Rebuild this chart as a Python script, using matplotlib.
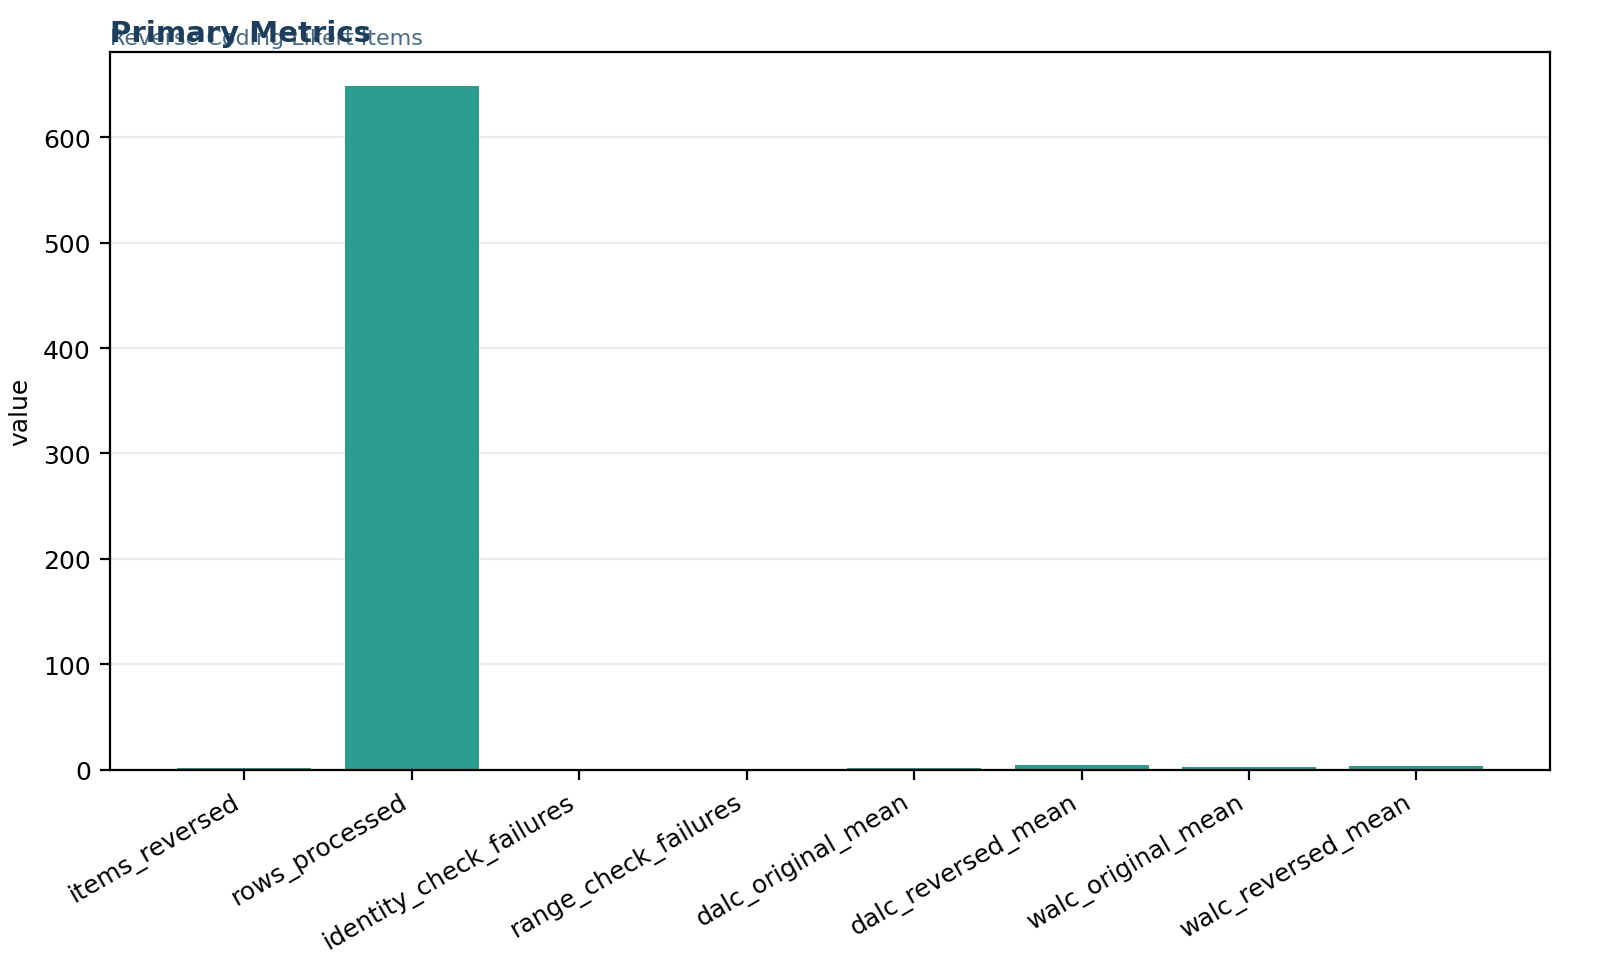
import matplotlib.pyplot as plt

metrics = ["items_reversed", "rows_processed", "identity_check_failures", "range_check_failures",
           "dalc_original_mean", "dalc_reversed_mean", "walc_original_mean", "walc_reversed_mean"]
values = [2, 649, 0, 0, 1.48, 4.52, 2.28, 3.72]

plt.rcParams["font.size"] = 9
fig, ax = plt.subplots(figsize=(8, 4.89), dpi=200)
fig.subplots_adjust(left=0.069, right=0.969, top=0.946, bottom=0.212)

ax.bar(metrics, values, color="#2a9d8f", width=0.8, zorder=2)
ax.set_ylabel("value")
ax.set_ylim(0, 681)
ax.set_xlim(-0.8, 7.8)
ax.grid(axis="y", color="#e6e6e6", linewidth=0.8, alpha=0.8, zorder=0)
plt.setp(ax.get_xticklabels(), rotation=30, ha="right")

ax.set_title("Primary Metrics", loc="left", fontsize=10.5, fontweight="bold", color="#1d3d5c", pad=4)
ax.text(0, 1.006, "Reverse Coding Likert Items", transform=ax.transAxes, fontsize=8,
        color="#4a6a85", va="bottom")

plt.savefig("out.png", dpi=200)
